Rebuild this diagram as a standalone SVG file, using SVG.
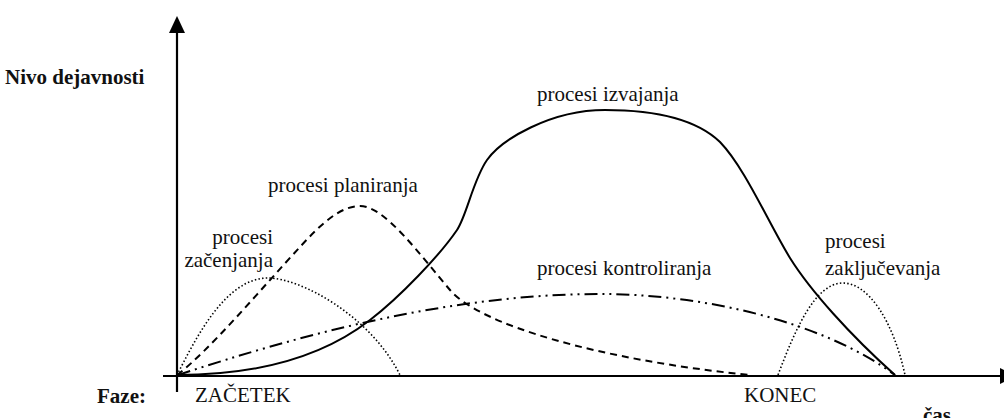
<svg xmlns="http://www.w3.org/2000/svg" width="1004" height="418" viewBox="0 0 1004 418">
  <style>
    .lbl { font-family: "Liberation Serif", "DejaVu Serif", serif; font-size: 21px; fill: #111; }
    .bold { font-weight: bold; }
    .axis { stroke: #000; stroke-width: 2.2; fill: none; }
    .curve { fill: none; stroke: #000; stroke-linecap: butt; }
    .solid { stroke-width: 2; }
    .dashed { stroke-width: 2; stroke-dasharray: 7 5; }
    .dotted { stroke-width: 1.6; stroke-dasharray: 1.5 2.2; }
    .dashdot { stroke-width: 2; stroke-dasharray: 13 5 2 5 2 5; }
  </style>

  <!-- axes -->
  <g id="axes">
    <line class="axis" x1="177" y1="30" x2="177" y2="392"/>
    <polygon points="177,16 169,33 185,33" fill="#000"/>
    <line class="axis" x1="163" y1="376" x2="1002" y2="376"/>
    <polygon points="1000,368 1000,384 1016,376" fill="#000"/>
  </g>

  <!-- axis and phase labels -->
  <g id="axis-labels">
    <text class="lbl bold" x="5" y="84" font-family="Liberation Serif, DejaVu Serif, serif">Nivo dejavnosti</text>
    <text class="lbl bold" x="97" y="403" font-family="Liberation Serif, DejaVu Serif, serif">Faze:</text>
    <text class="lbl" x="195" y="402" font-family="Liberation Serif, DejaVu Serif, serif">ZAČETEK</text>
    <text class="lbl" x="744" y="402" font-family="Liberation Serif, DejaVu Serif, serif">KONEC</text>
    <text class="lbl bold" x="923" y="422" font-family="Liberation Serif, DejaVu Serif, serif">čas</text>
  </g>

  <g id="connectors">
    <!-- execution processes -->
    <path id="izvajanja" class="curve solid" d="M177,375 C260,375 325,355 370,320 C400,297 440,255 457,230 C467,215 473,180 487,160 C501,140 550,110 605,110 C650,110 695,118 720,142 C745,168 768,222 790,258 C810,290 850,335 895,375"/>
    <!-- planning processes -->
    <path id="planiranja" class="curve dashed" d="M177,375 C210,350 260,290 300,247 C320,225 340,206 360,206 C385,206 420,255 450,290 C480,325 600,360 750,375"/>
    <!-- initiating processes -->
    <path id="zacenjanja" class="curve dotted" d="M177,375 C195,340 225,278 268,278 C300,278 370,315 400,375"/>
    <!-- closing processes -->
    <path id="zakljucevanja" class="curve dotted" d="M778,375 C795,330 815,283 843,283 C868,283 893,320 905,375"/>
    <!-- controlling processes -->
    <path id="kontroliranja" class="curve dashdot" d="M178,375 C300,335 450,294 600,294 C700,294 820,320 895,375"/>
  </g>

  <!-- curve labels -->
  <g id="label-izvajanja">
    <text class="lbl" x="537" y="101" font-family="Liberation Serif, DejaVu Serif, serif">procesi izvajanja</text>
  </g>
  <g id="label-planiranja">
    <text class="lbl" x="268" y="192" font-family="Liberation Serif, DejaVu Serif, serif">procesi planiranja</text>
  </g>
  <g id="label-zacenjanja">
    <text class="lbl" x="273" y="244" text-anchor="end" font-family="Liberation Serif, DejaVu Serif, serif">procesi</text>
    <text class="lbl" x="273" y="267" text-anchor="end" font-family="Liberation Serif, DejaVu Serif, serif">začenjanja</text>
  </g>
  <g id="label-kontroliranja">
    <text class="lbl" x="537" y="275" font-family="Liberation Serif, DejaVu Serif, serif">procesi kontroliranja</text>
  </g>
  <g id="label-zakljucevanja">
    <text class="lbl" x="825" y="248" font-family="Liberation Serif, DejaVu Serif, serif">procesi</text>
    <text class="lbl" x="825" y="275" font-family="Liberation Serif, DejaVu Serif, serif">zaključevanja</text>
  </g>
</svg>
